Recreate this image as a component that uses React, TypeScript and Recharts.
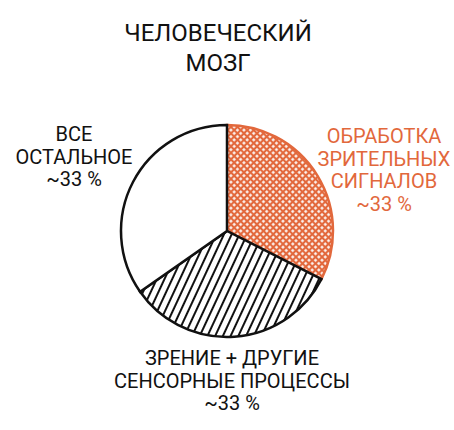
import React from 'react';
import { PieChart, Pie, Cell } from 'recharts';

const ORANGE = '#e2683c';

const categories = ['Обработка зрительных сигналов', 'Зрение + другие сенсорные процессы', 'Все остальное'];
const shares = [32.5, 32.8, 34.7];
const labelLines = [
    ['ОБРАБОТКА', 'ЗРИТЕЛЬНЫХ', 'СИГНАЛОВ', '~33 %'],
    ['ЗРЕНИЕ + ДРУГИЕ', 'СЕНСОРНЫЕ ПРОЦЕССЫ', '~33 %'],
    ['ВСЕ', 'ОСТАЛЬНОЕ', '~33 %'],
];
const titleLines = ['ЧЕЛОВЕЧЕСКИЙ', 'МОЗГ'];

const data = categories.map((name, i) => ({ name, value: shares[i], lines: labelLines[i] }));

const fills = ['url(#crosshatch)', 'url(#stripes)', '#ffffff'];
const strokes = [ORANGE, '#111111', '#111111'];
const textColors = [ORANGE, '#111111', '#111111'];
// where each label block sits, relative to the pie centre
const labelOffsets = [
    { dx: 157, dy: -88 },
    { dx: 5, dy: 134 },
    { dx: -153, dy: -90 },
];

const FONT = 'Roboto, "Noto Sans", sans-serif';

const renderLabel = (props: any) => {
    const { cx, cy, index } = props;
    const off = labelOffsets[index];
    const lines: string[] = data[index].lines;
    return (
        <text
            x={cx + off.dx}
            y={cy + off.dy}
            textAnchor="middle"
            fill={textColors[index]}
            fontFamily={FONT}
            fontSize={20}
        >
            {lines.map((l, i) => (
                <tspan key={i} x={cx + off.dx} dy={i === 0 ? 0 : 22.5}>{l}</tspan>
            ))}
        </text>
    );
};

export default function App() {
    return (
        <div style={{ position: 'absolute', left: 0, top: 0, width: 454, height: 430, background: '#fff' }}>
            <svg width={0} height={0} style={{ position: 'absolute' }}>
                <defs>
                    <pattern id="crosshatch" width={4.6} height={4.6} patternUnits="userSpaceOnUse" patternTransform="rotate(45)">
                        <rect width={4.6} height={4.6} fill="#fff" />
                        <line x1={0} y1={-1} x2={0} y2={6} stroke={ORANGE} strokeWidth={2.2} />
                        <line x1={-1} y1={0} x2={6} y2={0} stroke={ORANGE} strokeWidth={2.2} />
                        <line x1={4.6} y1={-1} x2={4.6} y2={6} stroke={ORANGE} strokeWidth={2.2} />
                        <line x1={-1} y1={4.6} x2={6} y2={4.6} stroke={ORANGE} strokeWidth={2.2} />
                    </pattern>
                    <pattern id="stripes" width={7} height={7} patternUnits="userSpaceOnUse" patternTransform="rotate(25)">
                        <rect width={7} height={7} fill="#fff" />
                        <line x1={1} y1={0} x2={1} y2={7} stroke="#111" strokeWidth={2} />
                    </pattern>
                </defs>
            </svg>
            <div
                style={{
                    position: 'absolute',
                    left: 0,
                    top: 18,
                    width: 436,
                    textAlign: 'center',
                    fontFamily: FONT,
                    fontSize: 24,
                    lineHeight: '30px',
                    color: '#111',
                }}
            >
                {titleLines.map((t) => (
                    <div key={t}>{t}</div>
                ))}
            </div>
            <PieChart width={454} height={430} style={{ position: 'absolute', left: 0, top: 0 }}>
                <Pie
                    data={data}
                    dataKey="value"
                    nameKey="name"
                    cx={222}
                    cy={226}
                    innerRadius={0}
                    outerRadius={106}
                    startAngle={90}
                    endAngle={-270}
                    label={renderLabel}
                    labelLine={false}
                    strokeWidth={2.5}
                    isAnimationActive={false}
                >
                    {data.map((d, i) => (
                        <Cell key={d.name} fill={fills[i]} stroke={strokes[i]} />
                    ))}
                </Pie>
            </PieChart>
        </div>
    );
}
